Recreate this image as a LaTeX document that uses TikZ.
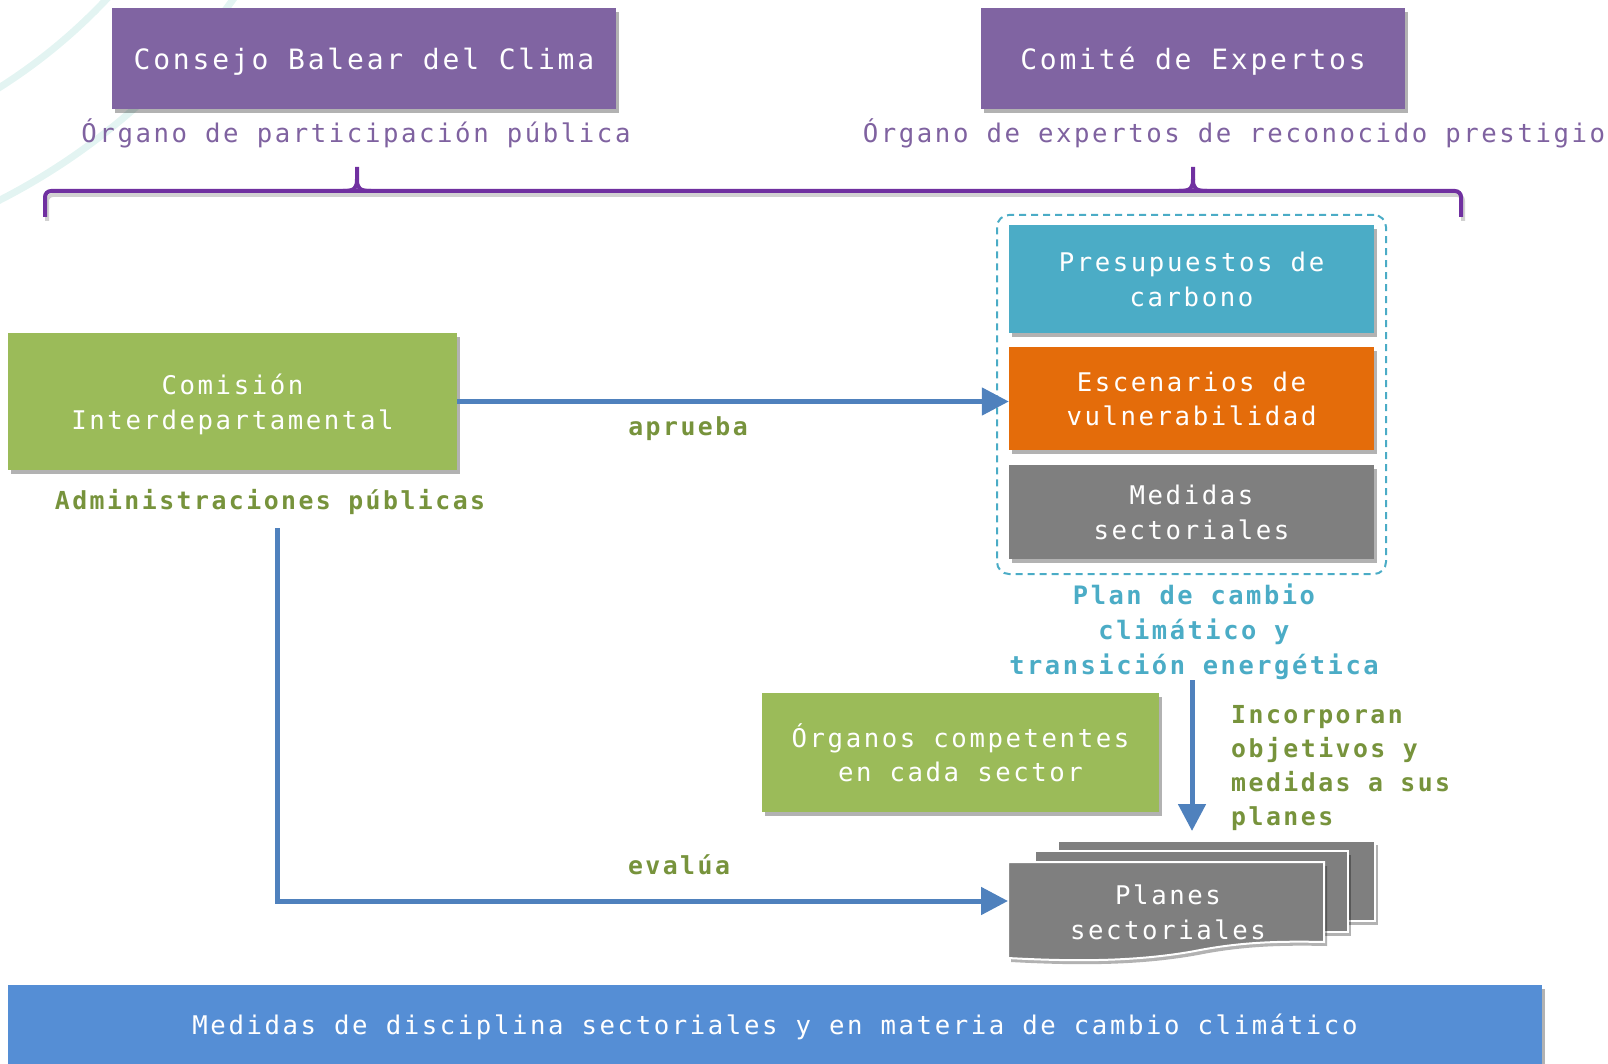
\documentclass[tikz,border=0pt]{standalone}
\usepackage{fontspec}
\newfontfamily\mono[LetterSpace=10]{DejaVu Sans Mono}
\usetikzlibrary{arrows.meta,shadows,calc}
\definecolor{purpbox}{HTML}{8064A2}
\definecolor{purptxt}{HTML}{7F62A0}
\definecolor{bracecol}{HTML}{7030A0}
\definecolor{greenbox}{HTML}{9BBB59}
\definecolor{greentxt}{HTML}{77933C}
\definecolor{arrowblue}{HTML}{4F81BD}
\definecolor{cyanbox}{HTML}{4BACC6}
\definecolor{orangebox}{HTML}{E46C0A}
\definecolor{graybox}{HTML}{7F7F7F}
\definecolor{barblue}{HTML}{558ED5}
\definecolor{bgarc}{HTML}{E3F4F2}
\tikzset{
  shd/.style={drop shadow={shadow xshift=3pt,shadow yshift=-4pt,opacity=0.3,fill=black}},
  btext/.style={draw=none,inner sep=0pt,text=white,align=center,text depth=0pt,
    font=\mono\fontsize{25.7}{34.5}\selectfont},
  fbox/.style={btext,shd},
  titlebox/.style={fbox,fill=purpbox,font=\mono\fontsize{28}{34}\selectfont},
  ptext/.style={text=purptxt,font=\mono\fontsize{25.7}{28}\selectfont,inner sep=0pt},
  gtext/.style={text=greentxt,font=\mono\bfseries\fontsize{24.8}{33.7}\selectfont,inner sep=0pt},
  ctext/.style={text=cyanbox,font=\mono\bfseries\fontsize{25.4}{35.2}\selectfont,align=center,inner sep=0pt},
  brace/.style={draw=bracecol,line width=4pt,rounded corners=6pt},
  braceshd/.style={draw=black,opacity=0.18,line width=4pt,rounded corners=6pt},
  arr/.style={draw=arrowblue,line width=5pt,-{Triangle[length=27pt,width=27pt]}},
  doc/.style={fill=graybox,draw=white,line width=2pt,shd},
  dashbox/.style={draw=cyanbox,line width=2pt,dash pattern=on 7pt off 5pt,rounded corners=12pt,inner sep=0pt}
}
\begin{document}
\begin{tikzpicture}[x=1pt,y=-1pt]
\useasboundingbox (0,0) rectangle (1608,1064);
% background arcs
\begin{scope}
\clip (0,0) rectangle (1608,1064);
\draw[bgarc,line width=7pt] (-296,-380) circle[radius=553];
\draw[bgarc,line width=7pt] (-296,-380) circle[radius=651];
\end{scope}

% top boxes
\node[titlebox,minimum width=504pt,minimum height=101pt] (consejo) at (364,58.5) {Consejo Balear del Clima};
\node[titlebox,minimum width=424pt,minimum height=101pt] (comite) at (1193,58.5) {Comité de Expertos};
\node[ptext] (orgpart) at (356,133) {Órgano de participación pública};
\node[ptext] (orgexp) at (1234,133) {Órgano de expertos de reconocido prestigio};

% brace
\begin{scope}[shift={(2pt,-4pt)}]
\draw[braceshd] (45,217) -- (45,191) -- (1461,191) -- (1461,217);
\end{scope}
\draw[brace] (45,217) -- (45,191) -- (1461,191) -- (1461,217);
\draw[draw=bracecol,line width=4pt] (343,191) .. controls (355,191) and (357,188) .. (357,179) -- (357,167);
\draw[draw=bracecol,line width=4pt] (371,191) .. controls (359,191) and (357,188) .. (357,179);
\draw[draw=bracecol,line width=4pt] (1179,191) .. controls (1191,191) and (1193,188) .. (1193,179) -- (1193,167);
\draw[draw=bracecol,line width=4pt] (1207,191) .. controls (1195,191) and (1193,188) .. (1193,179);

% plan group
\node[dashbox,minimum width=389pt,minimum height=359pt] (plan) at (1191.5,394.5) {};
\node[fbox,fill=cyanbox,minimum width=365pt,minimum height=108pt] (presu) at (1191.5,279) {Presupuestos de\\carbono};
\node[fbox,fill=orangebox,minimum width=365pt,minimum height=103pt] (escen) at (1191.5,398.5) {Escenarios de\\vulnerabilidad};
\node[fbox,fill=graybox,minimum width=365pt,minimum height=94pt] (medidas) at (1191.5,512) {Medidas\\sectoriales};
\node[ctext] (plantext) at (1194,632) {Plan de cambio\\climático y\\transición energética};

% comision
\node[fbox,fill=greenbox,minimum width=449pt,minimum height=137pt] (comision) at (232.5,401.5) {Comisión\\Interdepartamental};
\node[gtext] (admin) at (270,502) {Administraciones públicas};
\draw[arr] (comision.east) -- (comision.east -| escen.west);
\node[gtext] (aprueba) at (688,429) {aprueba};

% organos
\node[fbox,fill=greenbox,minimum width=397pt,minimum height=119pt] (organos) at (960.5,752.5) {Órganos competentes\\en cada sector};

% planes sectoriales stack
\draw[doc] (1058,841) rectangle (1375,921);
\draw[doc] (1035,851) rectangle (1348,932);
\draw[doc] (1008,862) -- (1324,862) -- (1324,942)
  .. controls (1280,941) and (1240,942) .. (1195,951)
  .. controls (1140,961) and (1080,962) .. (1008,958) -- cycle;
\node[btext] (planes) at (1168,912) {Planes\\sectoriales};
\coordinate (planesw) at (1008,901);
\coordinate (planestop) at (1192,831);

\draw[arr] (plantext.south -| planestop) -- (planestop);
\node[gtext,align=left,anchor=west] (incorp) at (1231,768) {Incorporan\\objetivos y\\medidas a sus\\planes};

% evalua
\coordinate (evs) at (277,528);
\draw[arr] (evs) |- (planesw);
\node[gtext] (evalua) at (679,865) {evalúa};

% bottom bar
\node[fbox,fill=barblue,minimum width=1534pt,minimum height=79pt] (bar) at (775,1024.5) {Medidas de disciplina sectoriales y en materia de cambio climático};
\end{tikzpicture}
\end{document}
